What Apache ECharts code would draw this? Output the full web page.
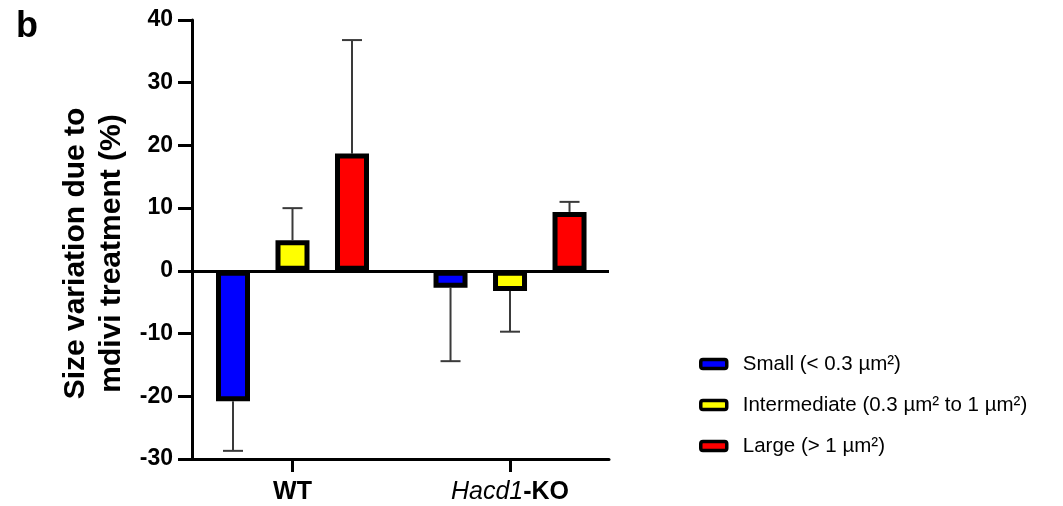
<!DOCTYPE html>
<html>
<head>
<meta charset="utf-8">
<script src="https://cdn.jsdelivr.net/npm/echarts@6/dist/echarts.min.js"></script>
<style>
html,body{margin:0;padding:0;background:#fff;}
#chart{width:1063px;height:506px;}
</style>
</head>
<body>
<div id="chart"></div>
<script>
// ---- data ----
var categories = ['WT', 'Hacd1-KO'];
var seriesNames = ['Small (< 0.3 µm²)', 'Intermediate (0.3 µm² to 1 µm²)', 'Large (> 1 µm²)'];
var smallValues = [-20.8, -2.7];
var intermediateValues = [4.9, -3.2];
var largeValues = [18.7, 9.4];
var smallErrEnd = [-28.7, -14.4];
var intermediateErrEnd = [10.0, -9.7];
var largeErrEnd = [36.8, 11.0];
var yTicks = [-30, -20, -10, 0, 10, 20, 30, 40];

// ---- styling ----
var FONT = "'Liberation Sans', Arial, sans-serif";
var colors = ['#0000ff', '#ffff00', '#ff0000'];
var BAR_W = 34, BAR_GAP = 0.75;
var step = BAR_W * (1 + BAR_GAP);
var valuesList = [smallValues, intermediateValues, largeValues];
var errList = [smallErrEnd, intermediateErrEnd, largeErrEnd];

var series = [];
valuesList.forEach(function (vals, i) {
  var s = {
    type: 'bar',
    name: seriesNames[i],
    barWidth: BAR_W,
    barGap: (BAR_GAP * 100) + '%',
    data: vals.map(function (v, k) { return [k, v]; }),
    itemStyle: { color: colors[i], borderColor: '#000', borderWidth: 5 },
    emphasis: { disabled: true },
    z: 3
  };
  if (i === 0) {
    s.markLine = {
      silent: true,
      symbol: ['none', 'none'],
      label: { show: false },
      lineStyle: { color: '#000', width: 3, type: 'solid' },
      data: [{ yAxis: 0 }],
      z: 5
    };
  }
  series.push(s);
});
errList.forEach(function (errs, i) {
  series.push({
    type: 'custom',
    name: seriesNames[i] + ' err',
    data: errs.map(function (e, k) { return [k, valuesList[i][k], e]; }),
    encode: { x: 0, y: [1, 2] },
    z: 2,
    silent: true,
    renderItem: function (params, api) {
      var off = (i - 1) * step;
      var a = api.coord([api.value(0), api.value(1)]);
      var b = api.coord([api.value(0), api.value(2)]);
      var x = a[0] + off;
      var style = { stroke: '#3a3a3a', lineWidth: 2 };
      return {
        type: 'group',
        children: [
          { type: 'line', shape: { x1: x, y1: a[1], x2: x, y2: b[1] }, style: style },
          { type: 'line', shape: { x1: x - 10, y1: b[1], x2: x + 10, y2: b[1] }, style: style }
        ]
      };
    }
  });
});

var chart = echarts.init(document.getElementById('chart'), null, { renderer: 'canvas' });
chart.setOption({
  animation: false,
  backgroundColor: '#fff',
  title: {
    text: 'b', left: 11, top: 4,
    textStyle: { fontFamily: FONT, fontSize: 36, fontWeight: 'bold', color: '#000' }
  },
  grid: { left: 192, right: 454, top: 20, bottom: 47, containLabel: false },
  legend: {
    orient: 'vertical',
    left: 694, top: 347,
    itemWidth: 26, itemHeight: 9,
    itemGap: 17,
    data: seriesNames,
    itemStyle: { borderColor: '#000', borderWidth: 3.5 },
    textStyle: { fontFamily: FONT, fontSize: 20.5, color: '#000', lineHeight: 24, padding: [0, 0, 0, 11] },
    selectedMode: false
  },
  xAxis: {
    type: 'value',
    min: -0.462, max: 1.455,
    splitLine: { show: false },
    axisLine: { onZero: false, lineStyle: { color: '#000', width: 3 } },
    axisTick: { show: true, customValues: [0, 1], length: 13, lineStyle: { color: '#000', width: 3 } },
    axisLabel: {
      customValues: [0, 1],
      margin: 21,
      formatter: function (v) {
        var c = categories[Math.round(v)];
        var idx = c.indexOf('-');
        if (idx > 0) return '{i|' + c.slice(0, idx) + '}{b|' + c.slice(idx) + '}';
        return '{b|' + c + '}';
      },
      rich: {
        b: { fontFamily: FONT, fontSize: 25, fontWeight: 'bold', color: '#000' },
        i: { fontFamily: FONT, fontSize: 25, fontStyle: 'italic', color: '#000' }
      }
    }
  },
  yAxis: {
    type: 'value',
    min: yTicks[0], max: yTicks[yTicks.length - 1], interval: 10,
    name: 'Size variation due to\nmdivi treatment (%)',
    nameLocation: 'middle',
    nameRotate: 90,
    nameGap: 62,
    nameTextStyle: { fontFamily: FONT, fontSize: 30, fontWeight: 'bold', color: '#000', lineHeight: 36, padding: [0, 28, 0, 0] },
    splitLine: { show: false },
    axisLine: { show: true, onZero: false, lineStyle: { color: '#000', width: 3 } },
    axisTick: { show: true, length: 14, lineStyle: { color: '#000', width: 3 } },
    axisLabel: { margin: 19, fontFamily: FONT, fontSize: 23, fontWeight: 'bold', color: '#000' }
  },
  series: series
});
</script>
</body>
</html>
